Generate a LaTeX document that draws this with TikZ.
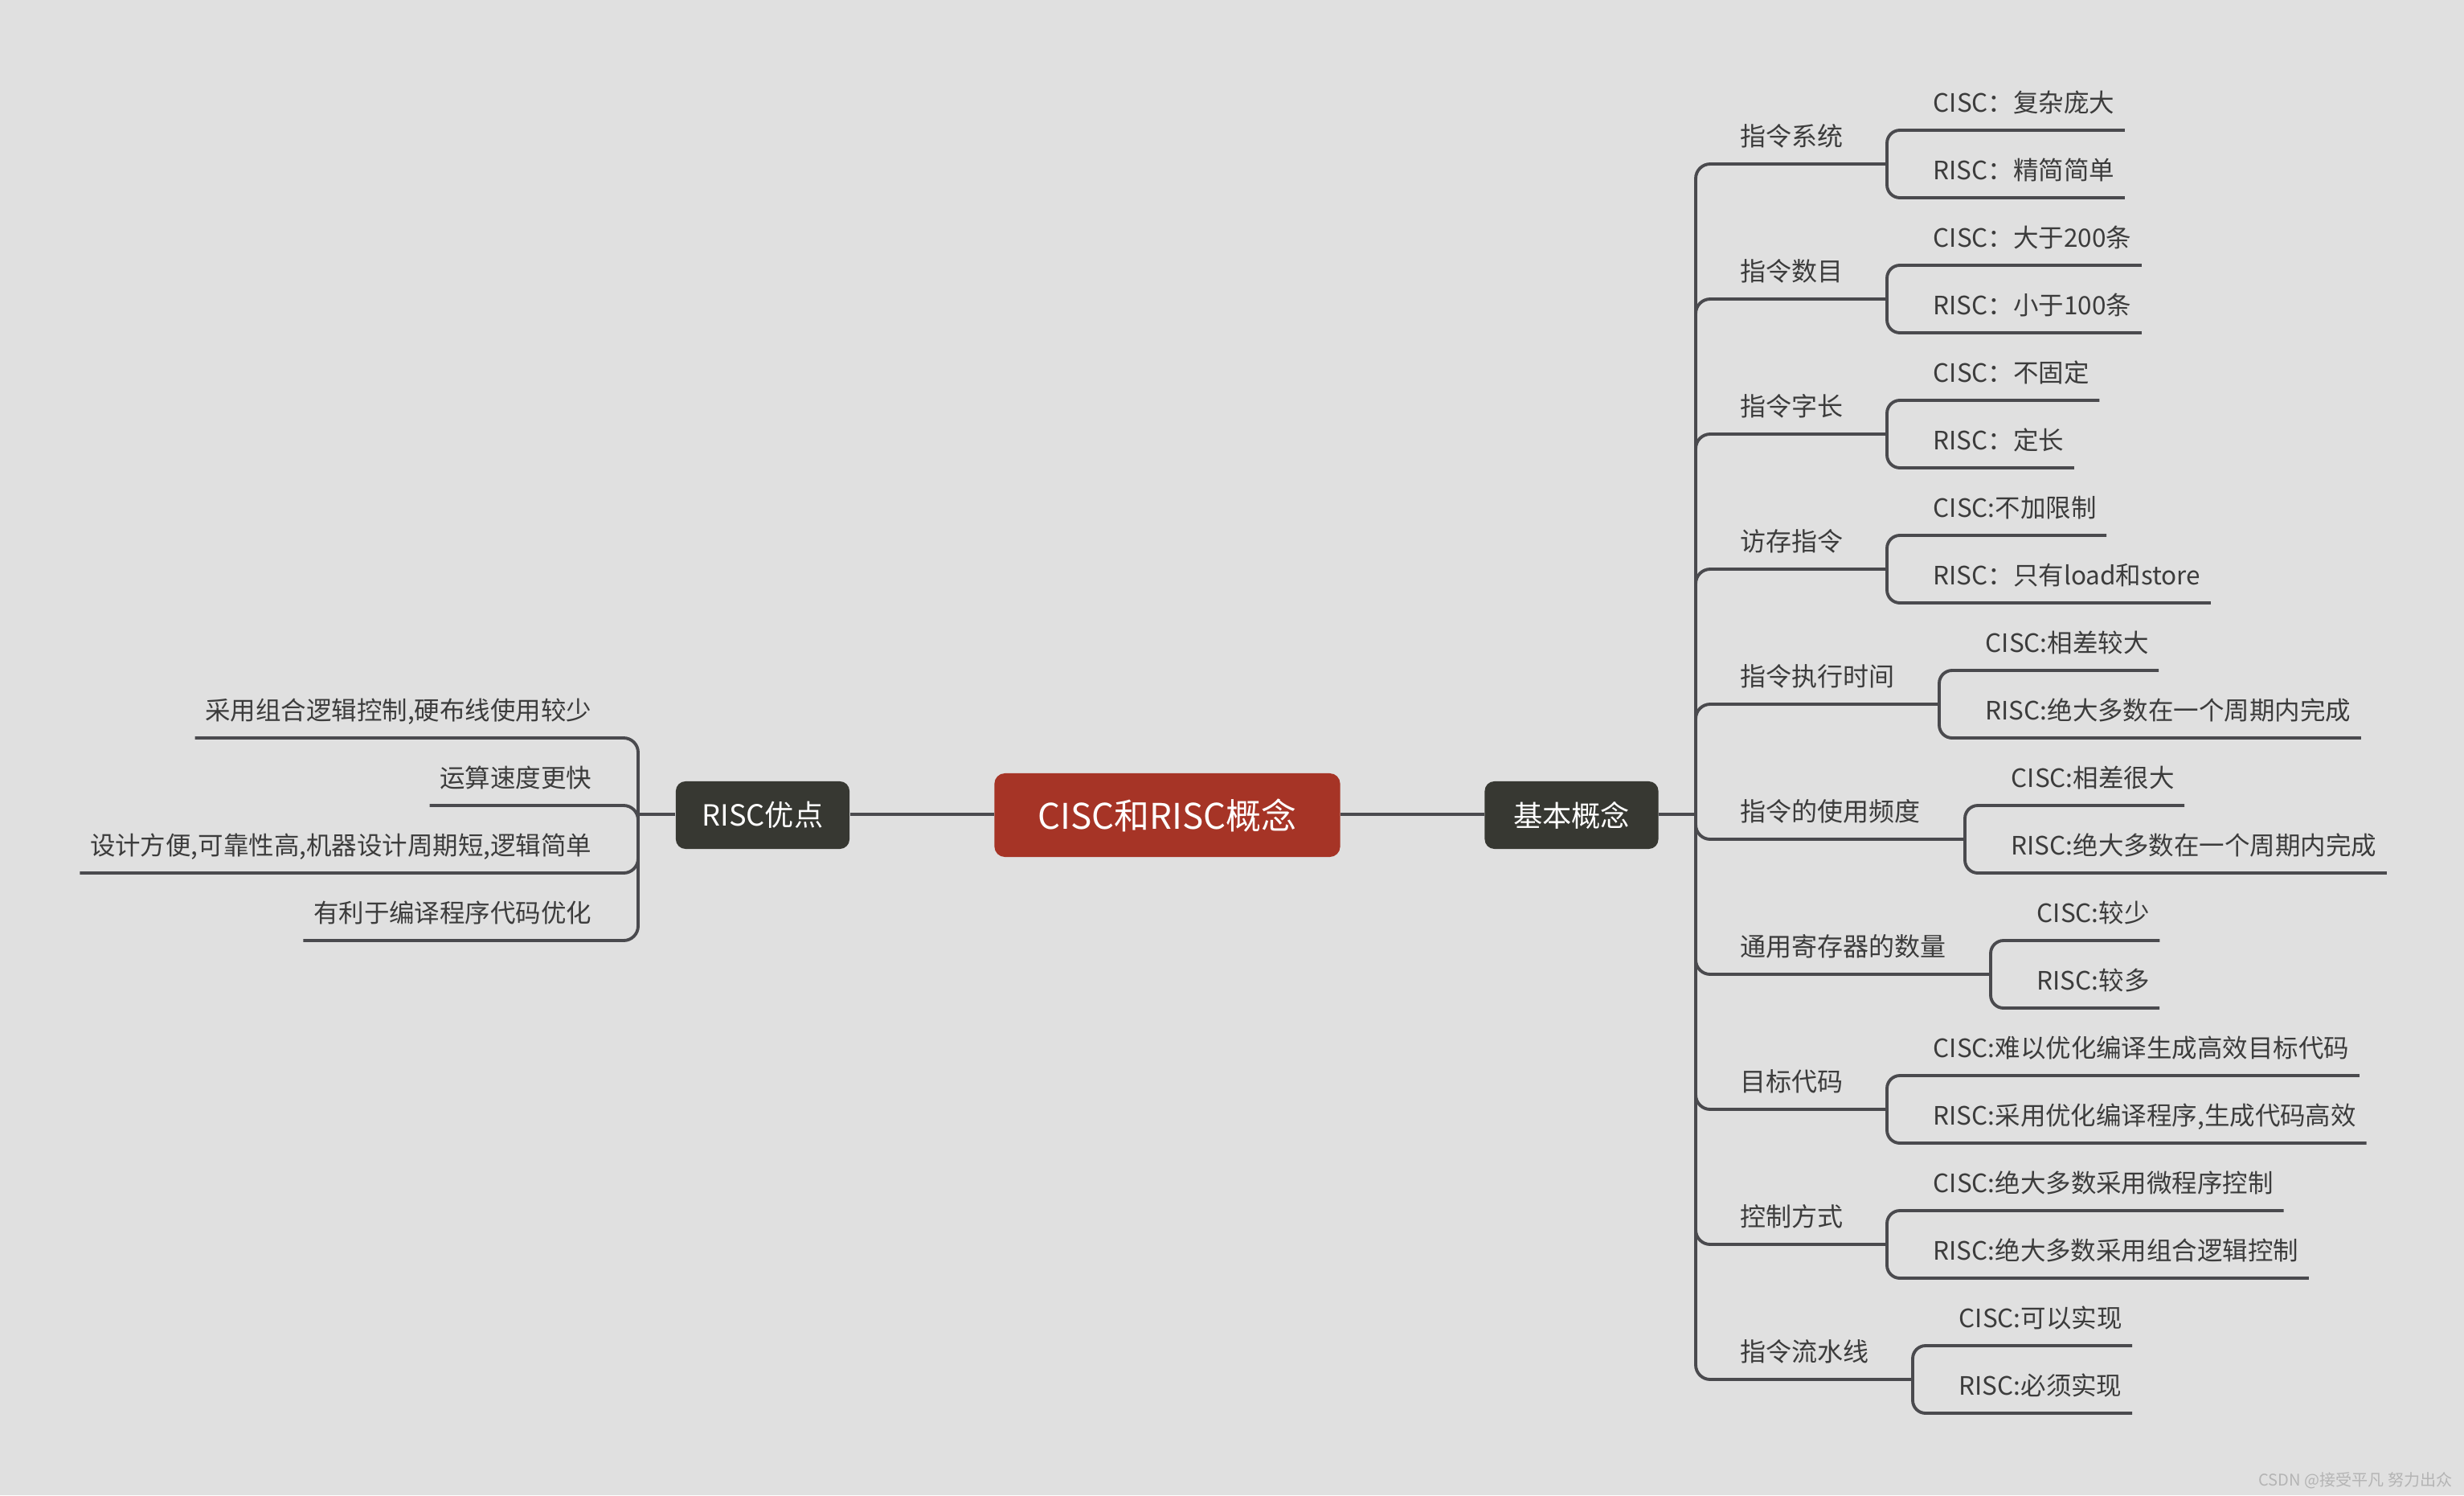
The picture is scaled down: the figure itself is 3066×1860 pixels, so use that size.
\documentclass[tikz,border=0pt]{standalone}
\usepackage{fontspec}
\setmainfont{Noto Sans CJK SC}
\usetikzlibrary{calc}
\definecolor{bg}{HTML}{E0E0E0}
\definecolor{ln}{HTML}{4A4A4E}
\definecolor{tx}{HTML}{3C3C3C}
\definecolor{redbox}{HTML}{A63426}
\definecolor{darkbox}{HTML}{373832}
\definecolor{wmc}{HTML}{B4B4B4}
\tikzset{
  conn/.style={draw=ln, line width=1.1pt},
  mainbox/.style={fill=redbox, text=white, rounded corners=0.13cm, minimum width=4.3cm, minimum height=1.04cm, font=\fontsize{12.5}{14}\selectfont, inner sep=0},
  subbox/.style={fill=darkbox, text=white, rounded corners=0.12cm, minimum width=2.16cm, minimum height=0.84cm, font=\fontsize{10.3}{12}\selectfont, inner sep=0},
  topic/.style={text=tx, font=\fontsize{9.1}{11}\selectfont, inner sep=0, anchor=base west},
  leaf/.style={text=tx, font=\fontsize{8.95}{11}\selectfont, inner xsep=0.12cm, inner ysep=0},
}
\newcommand\mmtopic[6]{%
  \node[topic] (t#1) at (2165,#2-23) {#4};
  \coordinate (b#1) at (#3,#2);
  \coordinate (cy#1) at (#3,#2-42);
  \coordinate (ry#1) at (#3,#2+42);
  \node[leaf,anchor=base west] (c#1) at (#3+45,#2-42-23) {#5};
  \node[leaf,anchor=base west] (r#1) at (#3+45,#2+42-23) {#6};
  \draw[conn,rounded corners=0.18cm] (J) |- (b#1);
  \draw[conn,rounded corners=0.16cm] (b#1) |- (c#1.east |- cy#1);
  \draw[conn,rounded corners=0.16cm] (b#1) |- (r#1.east |- ry#1);
}
\newcommand\mmleft[3]{%
  \coordinate (ly#1) at (794,#2);
  \node[leaf,anchor=base east] (l#1) at (749,#2-23) {#3};
  \draw[conn,rounded corners=0.18cm] (JL) |- (l#1.west |- ly#1);
}
\begin{document}
\begin{tikzpicture}[x=0.01cm,y=-0.01cm]
\fill[bg] (0,0) rectangle (3066,1860);
\useasboundingbox (0,0) rectangle (3066,1860);

\node[mainbox] (center) at (1452.5,1014) {CISC和RISC概念};
\node[subbox] (basic) at (1955.5,1014) {基本概念};
\node[subbox] (adv) at (949,1014) {RISC优点};
\coordinate (J) at (2110,1013);
\coordinate (JL) at (794,1013);

\draw[conn] (adv.east |- JL) -- (center.west |- JL);
\draw[conn] (center.east |- J) -- (basic.west |- J);
\draw[conn] (basic.east |- J) -- (J);
\draw[conn] (adv.west |- JL) -- (JL);

\mmtopic{1}{204}{2348}{指令系统}{CISC：复杂庞大}{RISC：精简简单}
\mmtopic{2}{372}{2348}{指令数目}{CISC：大于200条}{RISC：小于100条}
\mmtopic{3}{540}{2348}{指令字长}{CISC：不固定}{RISC：定长}
\mmtopic{4}{708}{2348}{访存指令}{CISC:不加限制}{RISC：只有load和store}
\mmtopic{5}{876}{2413}{指令执行时间}{CISC:相差较大}{RISC:绝大多数在一个周期内完成}
\mmtopic{6}{1044}{2445}{指令的使用频度}{CISC:相差很大}{RISC:绝大多数在一个周期内完成}
\mmtopic{7}{1212}{2477}{通用寄存器的数量}{CISC:较少}{RISC:较多}
\mmtopic{8}{1380}{2348}{目标代码}{CISC:难以优化编译生成高效目标代码}{RISC:采用优化编译程序,生成代码高效}
\mmtopic{9}{1548}{2348}{控制方式}{CISC:绝大多数采用微程序控制}{RISC:绝大多数采用组合逻辑控制}
\mmtopic{10}{1716}{2380}{指令流水线}{CISC:可以实现}{RISC:必须实现}

\mmleft{1}{918}{采用组合逻辑控制,硬布线使用较少}
\mmleft{2}{1002}{运算速度更快}
\mmleft{3}{1086}{设计方便,可靠性高,机器设计周期短,逻辑简单}
\mmleft{4}{1170}{有利于编译程序代码优化}

\node[anchor=base east, text=wmc, font=\fontsize{5.7}{7}\selectfont, inner sep=0] (wm) at (3052,1848) {CSDN @接受平凡 努力出众};
\end{tikzpicture}
\end{document}
